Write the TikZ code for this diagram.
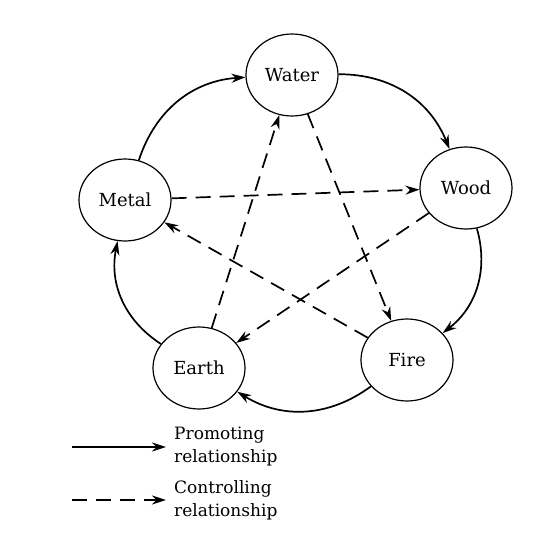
\documentclass[tikz,border=0pt]{standalone}
\usepackage{fontspec}
\setmainfont{DejaVu Serif}
\usepackage{tikz}
\usetikzlibrary{shapes.geometric}
\usetikzlibrary{positioning}
\usetikzlibrary{arrows.meta}

\tikzset{
  phase/.style={ellipse, draw, line width=1.2pt, minimum width=92pt, minimum height=82pt,
                font=\fontsize{18}{21}\selectfont, inner sep=0pt},
  promote/.style={line width=1.7pt, -{Stealth[length=14pt,width=9pt]}},
  control/.style={line width=1.7pt, dash pattern=on 15pt off 9pt, -{Stealth[length=14pt,width=9pt]}},
  legtext/.style={align=left, anchor=west, font=\fontsize{17}{23}\selectfont, inner sep=0pt}
}

\begin{document}
\begin{tikzpicture}[x=1pt,y=-1pt]

\useasboundingbox (0,0) rectangle (550,538);

%---------------------------------------
% The five phases
%---------------------------------------
\node[phase] (water) at (292,75)  {Water};
\node[phase] (wood)  at (466,188) {Wood};
\node[phase] (fire)  at (407,360) {Fire};
\node[phase] (earth) at (199,368) {Earth};
\node[phase] (metal) at (125,200) {Metal};

%---------------------------------------
% Promoting cycle (outer arcs)
%---------------------------------------
\draw[promote] (water) to[bend left=34] (wood);
\draw[promote] (wood)  to[bend left=34] (fire);
\draw[promote] (fire)  to[bend left=34] (earth);
\draw[promote] (earth) to[bend left=34] (metal);
\draw[promote] (metal) to[bend left=34] (water);

%---------------------------------------
% Controlling cycle (inner star)
%---------------------------------------
\draw[control] (water) -- (fire);
\draw[control] (fire)  -- (metal);
\draw[control] (metal) -- (wood);
\draw[control] (wood)  -- (earth);
\draw[control] (earth) -- (water);

%---------------------------------------
% Legend
%---------------------------------------
\node[legtext] (promo) at (174,447) {Promoting\\relationship};
\node[legtext] (contr) at (174,500) {Controlling\\relationship};

\coordinate (promoA) at (72,447);
\coordinate (contrA) at (72,500);

\draw[promote, shorten >=8pt] (promoA) -- (promo.west);
\draw[control, shorten >=8pt] (contrA) -- (contr.west);

\end{tikzpicture}
\end{document}
